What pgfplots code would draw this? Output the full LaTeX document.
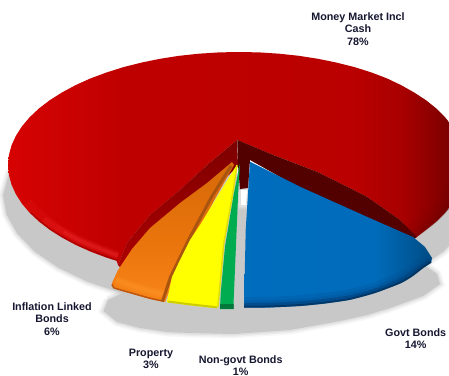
\documentclass[border=0pt]{standalone}
\usepackage{fontspec}
\setmainfont{Liberation Sans}
\usepackage{pgfplots}
\usepackage{pgfplotstable}
\usetikzlibrary{fadings}
\pgfplotsset{compat=1.18}

\definecolor{shadowgrey}{RGB}{200,200,200}
\definecolor{labelink}{RGB}{22,22,48}
\definecolor{redglow}{RGB}{232,8,8}
\definecolor{redrim}{RGB}{255,60,60}
\definecolor{reddark}{RGB}{105,0,0}
\definecolor{blueA}{RGB}{0,70,135}
\definecolor{blueB}{RGB}{0,60,115}
\definecolor{blueC}{RGB}{0,48,92}
\tikzset{labelstyle/.style={font=\fontsize{10.8}{12.3}\selectfont\bfseries,
    text=labelink, align=center, inner sep=0pt}}
\tikzfading[name=lowglow, inner color=transparent!15, outer color=transparent!100]

% Surface shadings of the slices; a path's bounding box spans 25bp to 75bp
\pgfdeclarehorizontalshading{redtop}{100bp}{
  rgb(0bp)=(0.84,0.01,0.01); rgb(25bp)=(0.84,0.01,0.01); rgb(37.5bp)=(0.75,0,0);
  rgb(62.5bp)=(0.73,0,0); rgb(68bp)=(0.66,0,0); rgb(75bp)=(0.42,0,0); rgb(100bp)=(0.42,0,0)}
\pgfdeclarehorizontalshading{bluetop}{100bp}{
  rgb(0bp)=(0,0.43,0.75); rgb(60bp)=(0,0.42,0.73); rgb(75bp)=(0,0.30,0.52); rgb(100bp)=(0,0.30,0.52)}
\pgfdeclareverticalshading{orangetop}{100bp}{
  rgb(0bp)=(0.97,0.52,0.10); rgb(25bp)=(0.97,0.52,0.10); rgb(45bp)=(0.92,0.46,0.05);
  rgb(75bp)=(0.84,0.41,0.03); rgb(100bp)=(0.84,0.41,0.03)}

% Outlines, x and y in picture units
\pgfplotstableread{
x y
471.4 214.6
460.8 233.6
443.4 251.5
419.8 267.6
390.7 281.6
357 292.9
319.7 301.2
280 306.3
239 308
198 306.3
158.3 301.2
121 292.9
87.3 281.6
58.2 267.6
34.6 251.5
17.2 233.6
6.6 214.6
3 195
9 174
471.4 175.4
471.4 214.6
}\moneyshadow

\pgfplotstableread{
x y
108 300
103.5 311
117 322
140 328
167 332
190 333
233 334
290 330
340 321
367 315
390 308
423 296
440 284
437 274
420 262
240 250
140 285
108 300
}\sliceshadow

\pgfplotstableread{
x y
241 190
247 190
246 205
241 205
241 190
}\gapglow

\pgfplotstableread{
x y
415.9 237.6
426 229.8
436.3 221.5
445 212.8
452.6 203.6
458.5 194.2
463 184.6
465.5 174.8
466.3 165
465.5 155.2
463 145.4
458.5 135.8
452.6 126.4
445 117.2
436.3 108.5
426 100.2
414 92.4
401 85.1
387 78.4
371.5 72.5
354.5 67.1
336.6 62.6
318 58.8
298.8 55.8
279.1 53.7
259.1 52.4
239 52
218.9 52.4
198.9 53.7
179.2 55.8
160 58.8
141.4 62.6
123.5 67.1
106.5 72.5
90.5 78.4
75.7 85.1
62.1 92.4
49.8 100.2
38.9 108.5
29.7 117.2
21.9 126.4
15.9 135.8
11.5 145.4
8.9 155.2
8 165
8.9 174.8
11.5 184.6
15.9 194.2
21.9 203.6
29.7 212.8
38.9 221.5
49.8 229.8
62.1 237.6
75.7 244.9
90.5 251.6
106.5 257.6
116.6 260.8
118 265
127 243
150 215
180 190
207 165
237 140
273.3 155
316.7 171.7
366.7 196.7
400 220
}\moneymarket

% Lit band along the lower rim, in three lengths so that it tapers
\pgfplotstableread{
x y
28 202
35.1 210.3
54.7 226.4
79.9 240.6
109.9 252.6
118 255.7
}\moneyglowlong

\pgfplotstableread{
x y
44 219
54.7 226.4
79.9 240.6
109.9 252.6
118 255.7
}\moneyglowmid

\pgfplotstableread{
x y
64 232
79.9 240.6
109.9 252.6
118 255.7
}\moneyglowshort

\pgfplotstableread{
x y
30.6 212.4
50.6 229.3
76.4 244.2
107 256.7
117 260
}\moneyedge

\pgfplotstableread{
x y
408 233.1
429 218
445 201.3
455 183.4
459 165
}\moneydarkwide

\pgfplotstableread{
x y
411 235.7
433 220
449 202.6
459 184.1
463 165
}\moneydarkmid

\pgfplotstableread{
x y
414 237
434.6 221
451.3 203
461.5 184.4
465 165
}\moneydark

\pgfplotstableread{
x y
237 140
207 165
180 190
150 215
127 243
118 265
125 272
232 172
238 166
}\wallleft

\pgfplotstableread{
x y
237.3 140
273.3 155
316.7 171.7
366.7 196.7
400 220
416.7 237
413 240
366.7 219
300 188
250 160
248 188
240 189
238 165
}\wallright

\pgfplotstableread{
x y
232 162
207 183
180 203
150 228
132 249
118 270
112 283
113 288
133 294
150 299
165 302
175 277
193 240
216 197
234 165
}\inflation

\pgfplotstableread{
x y
116 280
133 286
150 291
164 294
}\inflationglow

\pgfplotstableread{
x y
112.6 284
114 287.8
133 293.4
150 298.2
164 301.2
}\inflationedge

\pgfplotstableread{
x y
162.5 301.5
170.5 277
188.5 240
211.5 197
231 166
}\inflationside

\pgfplotstableread{
x y
236.7 165
231.7 196.7
223.3 243.3
219.3 286.7
217.3 308.3
190 305.3
166.7 302.3
172 277
180 260
190 240
200 225
223.3 186.7
}\property

\pgfplotstableread{
x y
168 301.5
190 304.3
217 307.3
}\propertyedge

\pgfplotstableread{
x y
217.8 307
219.8 287
223.8 243
232.2 197
237 165
}\propertyside

\pgfplotstableread{
x y
240 163.3
238.3 190
233.3 309
220 309
220.7 293.3
225 246.7
233.3 196.7
}\nongovt

\pgfplotstableread{
x y
220 306.5
233.5 306.5
}\nongovtedge

\pgfplotstableread{
x y
250 161.7
300 186.7
366.7 216.7
413 237
425 247
432 258
431 263
423 268
412 276.5
400 283.5
375 293
350 299.8
325 303.5
300 306
270 307.5
244 307.7
245.7 230
}\govt

\pgfplotstableread{
x y
245 301
270 300.8
300 299.2
325 296.7
350 293
375 286.3
397 277
410 269.5
421 261.5
428 255
}\govtwide

\pgfplotstableread{
x y
244.5 303
270 302.8
300 301.2
325 298.7
350 295
375 288.3
398 279
411 271.5
422 263.5
429 257.5
}\govtnext

\pgfplotstableread{
x y
244 304.5
270 304.3
300 302.8
325 300.3
350 296.7
375 290
399 280.5
411.5 273
422.5 265
430 259.5
}\govtmid

\pgfplotstableread{
x y
244 306.6
270 306.4
300 305
325 302.5
350 298.8
375 292
400 282.5
412 275.5
423 267
431 261.6
}\govtedge

\begin{document}
\begin{tikzpicture}
\useasboundingbox (0,0) rectangle (449bp,376bp);
\clip (0,0) rectangle (449bp,376bp);
\begin{axis}[
  at={(0,0)}, anchor=south west,
  scale only axis, width=449bp, height=376bp,
  xmin=0, xmax=449, ymin=0, ymax=376, y dir=reverse,
  hide axis, clip=true,
]
% Soft drop shadows
\addplot[draw=shadowgrey, line width=9bp, opacity=0.14] table {\moneyshadow};
\addplot[draw=shadowgrey, line width=6bp, opacity=0.22] table {\moneyshadow};
\addplot[draw=shadowgrey, line width=3bp, opacity=0.35] table {\moneyshadow};
\addplot[draw=none, fill=shadowgrey] table {\moneyshadow};
\addplot[draw=shadowgrey, line width=9bp, opacity=0.14] table {\sliceshadow};
\addplot[draw=shadowgrey, line width=6bp, opacity=0.22] table {\sliceshadow};
\addplot[draw=shadowgrey, line width=3bp, opacity=0.35] table {\sliceshadow};
\addplot[draw=none, fill=shadowgrey] table {\sliceshadow};
\addplot[draw=white, line width=9bp, opacity=0.15] table {\gapglow};
\addplot[draw=white, line width=5bp, opacity=0.3] table {\gapglow};
\addplot[draw=none, fill=white] table {\gapglow};

% Money market slice with its lit and shaded rims
\addplot[draw=none, shading=redtop] table {\moneymarket};
\addplot[draw=none, fill=redglow, path fading=lowglow, fit fading=false,
  fading transform={xshift=-165bp, yshift=-55bp, scale=7}] table {\moneymarket};
\addplot[draw=redrim, smooth, line width=9bp, opacity=0.10] table {\moneyglowlong};
\addplot[draw=redrim, smooth, line width=6bp, opacity=0.16] table {\moneyglowmid};
\addplot[draw=redrim, smooth, line width=3bp, opacity=0.22] table {\moneyglowshort};
\addplot[draw={rgb,255:red,150;green,0;blue,0}, smooth, line width=1.3bp, opacity=0.55] table {\moneyedge};
\addplot[draw=reddark, smooth, line width=14bp, opacity=0.10] table {\moneydarkwide};
\addplot[draw=reddark, smooth, line width=8bp, opacity=0.14] table {\moneydarkmid};
\addplot[draw=reddark, smooth, line width=4bp, opacity=0.2] table {\moneydark};

% Inner walls of the notch
\addplot[draw=none, top color={rgb,255:red,125;green,0;blue,0},
  bottom color={rgb,255:red,175;green,0;blue,0}] table {\wallleft};
\addplot[draw=none, fill={rgb,255:red,82;green,0;blue,0}] table {\wallright};

% Inflation linked bonds
\addplot[draw=none, shading=orangetop] table {\inflation};
\addplot[draw={rgb,255:red,255;green,150;blue,40}, smooth, line width=8bp, opacity=0.25] table {\inflationglow};
\addplot[draw={rgb,255:red,255;green,150;blue,40}, smooth, line width=4bp, opacity=0.35] table {\inflationglow};
\addplot[draw={rgb,255:red,190;green,85;blue,10}, smooth, line width=1.5bp] table {\inflationedge};
\addplot[draw={rgb,255:red,170;green,85;blue,15}, line width=3bp] table {\inflationside};

% Property
\addplot[draw=none, fill={rgb,255:red,255;green,255;blue,0}] table {\property};
\addplot[draw={rgb,255:red,205;green,205;blue,0}, line width=2bp] table {\propertyedge};
\addplot[draw={rgb,255:red,225;green,225;blue,0}, line width=1.5bp] table {\propertyside};

% Non-government bonds
\addplot[draw=none, fill={rgb,255:red,0;green,172;blue,80}] table {\nongovt};
\addplot[draw={rgb,255:red,0;green,100;blue,50}, line width=5bp, opacity=0.7] table {\nongovtedge};

% Government bonds
\addplot[draw=none, shading=bluetop] table {\govt};
\addplot[draw=blueA, smooth, line width=8bp, opacity=0.18] table {\govtwide};
\addplot[draw=blueA, smooth, line width=5bp, opacity=0.25] table {\govtnext};
\addplot[draw=blueB, smooth, line width=3bp, opacity=0.5] table {\govtmid};
\addplot[draw=blueC, smooth, line width=2bp, opacity=0.85] table {\govtedge};

% Slice labels
\node[labelstyle] at (axis cs:358,29) {Money Market Incl\\Cash\\78\%};
\node[labelstyle] at (axis cs:52,319) {Inflation Linked\\Bonds\\6\%};
\node[labelstyle] at (axis cs:151,358.5) {Property\\3\%};
\node[labelstyle] at (axis cs:240.7,365.4) {Non-govt Bonds\\1\%};
\node[labelstyle] at (axis cs:415.7,339) {Govt Bonds\\14\%};
\end{axis}
\end{tikzpicture}
\end{document}
